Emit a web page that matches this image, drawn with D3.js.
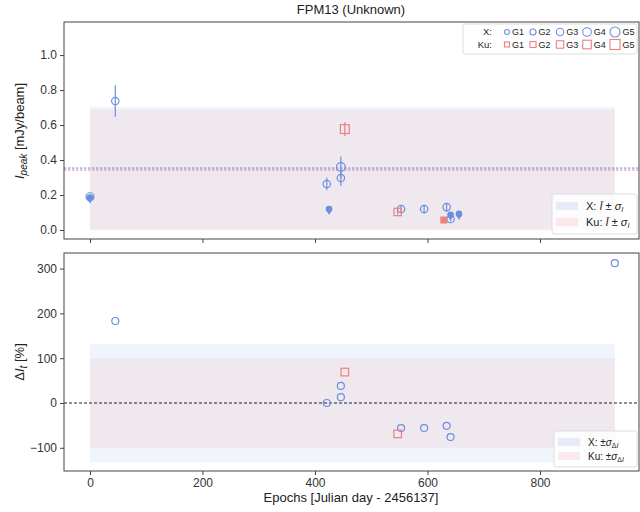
<!DOCTYPE html>
<html><head><meta charset="utf-8">
<script src="https://cdn.jsdelivr.net/npm/d3@7"></script>
<style>body{margin:0;background:#fff;font-family:"Liberation Sans",Arial,sans-serif;}</style>
</head><body>
<svg id="c" width="640" height="512"></svg>
<script>
// ---- data ----
const xTicks = [0, 200, 400, 600, 800];
const topTicks = [0.0, 0.2, 0.4, 0.6, 0.8, 1.0];
const botTicks = [-100, 0, 100, 200, 300];
// X band detections: [epoch, Ipeak, err, group]
const xDet = [[45,0.737,0.09,2],[421,0.263,0.035,2],[446,0.297,0.045,2],[446,0.36,0.06,3],[553,0.12,0.02,2],[594,0.12,0.025,2],[634,0.131,0.025,2],[641,0.063,0.012,2]];
// X upper limits: [epoch, Ipeak]
const xLim = [[0,0.185],[425,0.12],[641,0.087],[656,0.092]];
const xOpenAtLim = [[0,0.19]];
// Ku detections
const kuDet = [[453,0.577,0.04,3],[547,0.103,0.015,2]];
const kuLim = [[629,0.057]];
const xMean = 0.354, xSig = 0.35, kuMean = 0.343, kuSig = 0.345;
const bandStart = 0, bandEnd = 933;
// Delta I [%]
const xDelta = [[45,183],[421,0],[446,13],[446,38],[553,-56],[594,-56],[634,-51],[641,-76],[933,312]];
const kuDelta = [[453,69],[547,-69]];
const xSigD = 132, kuSigD = 100;
const groups = ["G1","G2","G3","G4","G5"];
const gRad = [2.5,3,3.7,4.3,5];

const blue = "#6a8fe0", red = "#f07f7f";
const svg = d3.select("#c");
const L = 64, R = 639;
const x = d3.scaleLinear().domain([-46.2, 976]).range([L, R]);
const yT = d3.scaleLinear().domain([-0.0514, 1.189]).range([239, 22]);
const yB = d3.scaleLinear().domain([-151.8, 334.8]).range([471, 253]);

function panel(y, top, bot, ticks, fmt, showX) {
  const g = svg.append("g");
  const ya = g.append("g").attr("transform", `translate(${L},0)`)
    .call(d3.axisLeft(y).tickValues(ticks).tickFormat(fmt).tickSize(4).tickPadding(3));
  ya.select(".domain").remove();
  ya.selectAll("line").attr("stroke", "#444");
  ya.selectAll("text").attr("font-size", 12).attr("fill", "#333").attr("font-family", "Liberation Sans, Arial");
  const xa = g.append("g").attr("transform", `translate(0,${bot})`)
    .call(d3.axisBottom(x).tickValues(xTicks).tickFormat(showX ? d3.format("d") : "").tickSize(4).tickPadding(3));
  xa.select(".domain").remove();
  xa.selectAll("line").attr("stroke", "#444");
  xa.selectAll("text").attr("font-size", 12).attr("fill", "#333").attr("font-family", "Liberation Sans, Arial");
  return g;
}

// ---- top panel ----
const gt = svg.append("g");
gt.append("rect").attr("x", x(bandStart)).attr("width", x(bandEnd) - x(bandStart))
  .attr("y", yT(xMean + xSig)).attr("height", yT(xMean - xSig) - yT(xMean + xSig))
  .attr("fill", blue).attr("fill-opacity", 0.1);
gt.append("rect").attr("x", x(bandStart)).attr("width", x(bandEnd) - x(bandStart))
  .attr("y", yT(kuMean + kuSig)).attr("height", yT(kuMean - kuSig) - yT(kuMean + kuSig))
  .attr("fill", red).attr("fill-opacity", 0.1);
gt.append("line").attr("x1", L).attr("x2", R).attr("y1", yT(xMean)).attr("y2", yT(xMean))
  .attr("stroke", blue).attr("stroke-dasharray", "2.5,1.5").attr("stroke-width", 1);
gt.append("line").attr("x1", L).attr("x2", R).attr("y1", yT(kuMean)).attr("y2", yT(kuMean))
  .attr("stroke", red).attr("stroke-dasharray", "2.5,1.5").attr("stroke-width", 1);

gt.selectAll(".ex").data(xDet).join("line")
  .attr("x1", d => x(d[0])).attr("x2", d => x(d[0]))
  .attr("y1", d => yT(d[1] - d[2])).attr("y2", d => yT(d[1] + d[2]))
  .attr("stroke", blue).attr("stroke-width", 1.2);
gt.selectAll(".ek").data(kuDet).join("line")
  .attr("x1", d => x(d[0])).attr("x2", d => x(d[0]))
  .attr("y1", d => yT(d[1] - d[2])).attr("y2", d => yT(d[1] + d[2]))
  .attr("stroke", red).attr("stroke-width", 1.2);
gt.selectAll(".mx").data(xDet).join("circle")
  .attr("cx", d => x(d[0])).attr("cy", d => yT(d[1])).attr("r", d => gRad[d[3]-1] + 0.7)
  .attr("fill", "none").attr("stroke", blue).attr("stroke-width", 1.2);
gt.selectAll(".mxo").data(xOpenAtLim).join("circle")
  .attr("cx", d => x(d[0])).attr("cy", d => yT(d[1])).attr("r", 4)
  .attr("fill", "none").attr("stroke", blue).attr("stroke-width", 1.2);
gt.selectAll(".mk").data(kuDet).join("rect")
  .attr("x", d => x(d[0]) - gRad[d[3]-1] - 0.7).attr("y", d => yT(d[1]) - gRad[d[3]-1] - 0.7)
  .attr("width", d => 2 * (gRad[d[3]-1] + 0.7)).attr("height", d => 2 * (gRad[d[3]-1] + 0.7))
  .attr("fill", "none").attr("stroke", red).attr("stroke-width", 1.2);
xLim.forEach(d => {
  const cx = x(d[0]), cy = yT(d[1]);
  gt.append("path").attr("d", `M${cx-2.8},${cy+1}L${cx+2.8},${cy+1}L${cx},${cy+6}Z`).attr("fill", blue);
  gt.append("circle").attr("cx", cx).attr("cy", cy).attr("r", 3.3).attr("fill", blue);
});
kuLim.forEach(d => {
  const cx = x(d[0]), cy = yT(d[1]);
  gt.append("rect").attr("x", cx - 3.5).attr("y", cy - 3.5).attr("width", 7).attr("height", 7).attr("fill", red);
});
panel(yT, 22, 239, topTicks, d3.format(".1f"), false);
gt.append("rect").attr("x", L).attr("y", 22).attr("width", R - L).attr("height", 217)
  .attr("fill", "none").attr("stroke", "#444").attr("stroke-width", 1);

// ---- bottom panel ----
const gb = svg.append("g");
gb.append("rect").attr("x", x(bandStart)).attr("width", x(bandEnd) - x(bandStart))
  .attr("y", yB(xSigD)).attr("height", yB(-xSigD) - yB(xSigD))
  .attr("fill", blue).attr("fill-opacity", 0.1);
gb.append("rect").attr("x", x(bandStart)).attr("width", x(bandEnd) - x(bandStart))
  .attr("y", yB(kuSigD)).attr("height", yB(-kuSigD) - yB(kuSigD))
  .attr("fill", red).attr("fill-opacity", 0.1);
gb.append("line").attr("x1", L).attr("x2", R).attr("y1", yB(0)).attr("y2", yB(0))
  .attr("stroke", "#222").attr("stroke-dasharray", "3,2").attr("stroke-width", 1);
gb.selectAll(".dx").data(xDelta).join("circle")
  .attr("cx", d => x(d[0])).attr("cy", d => yB(d[1])).attr("r", 3.5)
  .attr("fill", "none").attr("stroke", blue).attr("stroke-width", 1.2);
gb.selectAll(".dk").data(kuDelta).join("rect")
  .attr("x", d => x(d[0]) - 3.8).attr("y", d => yB(d[1]) - 3.8).attr("width", 7.6).attr("height", 7.6)
  .attr("fill", "none").attr("stroke", red).attr("stroke-width", 1.2);
panel(yB, 253, 471, botTicks, d3.format("d"), true);
gb.append("rect").attr("x", L).attr("y", 253).attr("width", R - L).attr("height", 218)
  .attr("fill", "none").attr("stroke", "#444").attr("stroke-width", 1);

// ---- text ----
svg.append("text").attr("x", 351).attr("y", 14).attr("text-anchor", "middle")
  .attr("font-size", 13).attr("fill", "#222").text("FPM13 (Unknown)");
svg.append("text").attr("x", 351).attr("y", 502).attr("text-anchor", "middle")
  .attr("font-size", 13).attr("fill", "#222").text("Epochs [Julian day - 2456137]");
const yl1 = svg.append("text").attr("transform", "translate(24,131) rotate(-90)")
  .attr("text-anchor", "middle").attr("font-size", 13).attr("fill", "#222");
yl1.append("tspan").attr("font-style", "italic").text("I");
yl1.append("tspan").attr("font-style", "italic").attr("font-size", 10).attr("dy", 3).text("peak");
yl1.append("tspan").attr("dy", -3).text(" [mJy/beam]");
const yl2 = svg.append("text").attr("transform", "translate(24,362) rotate(-90)")
  .attr("text-anchor", "middle").attr("font-size", 13).attr("fill", "#222");
yl2.append("tspan").text("Δ");
yl2.append("tspan").attr("font-style", "italic").text("I");
yl2.append("tspan").attr("font-style", "italic").attr("font-size", 10).attr("dy", 3).text("t");
yl2.append("tspan").attr("dy", -3).text(" [%]");

// ---- group legend ----
const lg = svg.append("g");
lg.append("rect").attr("x", 463).attr("y", 24).attr("width", 174).attr("height", 30).attr("rx", 2)
  .attr("fill", "#fff").attr("fill-opacity", 0.85).attr("stroke", "#ddd");
const gx = [507, 533, 560, 587, 615];
lg.append("text").attr("x", 492).attr("y", 35).attr("text-anchor", "end").attr("font-size", 9.5).attr("fill", "#222").text("X:");
lg.append("text").attr("x", 492).attr("y", 47.5).attr("text-anchor", "end").attr("font-size", 9.5).attr("fill", "#222").text("Ku:");
groups.forEach((gname, i) => {
  const r = gRad[i];
  lg.append("circle").attr("cx", gx[i]).attr("cy", 32).attr("r", r).attr("fill", "none").attr("stroke", blue).attr("stroke-width", 1.1);
  lg.append("rect").attr("x", gx[i] - r).attr("y", 44.5 - r).attr("width", 2 * r).attr("height", 2 * r).attr("fill", "none").attr("stroke", red).attr("stroke-width", 1.1);
  lg.append("text").attr("x", gx[i] + r + 2.5).attr("y", 35).attr("font-size", 9).attr("fill", "#222").text(gname);
  lg.append("text").attr("x", gx[i] + r + 2.5).attr("y", 47.5).attr("font-size", 9).attr("fill", "#222").text(gname);
});

// ---- band legends ----
function bandLegend(bx, by, h, fs, labels) {
  const g = svg.append("g");
  g.append("rect").attr("x", bx).attr("y", by).attr("width", 637 - bx).attr("height", h).attr("rx", 2)
    .attr("fill", "#fff").attr("fill-opacity", 0.85).attr("stroke", "#ddd");
  const step = (h - 8) / 2;
  labels.forEach((lab, i) => {
    const yy = by + 4 + i * step + step / 2 - 4;
    g.append("rect").attr("x", bx + 4).attr("y", yy).attr("width", 22).attr("height", 8)
      .attr("fill", i === 0 ? blue : red).attr("fill-opacity", 0.15);
    const t = g.append("text").attr("x", bx + 34).attr("y", yy + 7.5).attr("font-size", fs).attr("fill", "#222");
    lab(t);
  });
}
bandLegend(552, 194, 40, 11, [
  t => { t.append("tspan").text("X: "); t.append("tspan").attr("font-style","italic").text("Ī"); t.append("tspan").text(" ± "); t.append("tspan").attr("font-style","italic").text("σ"); t.append("tspan").attr("font-style","italic").attr("font-size",7.5).attr("dy",2).text("I"); },
  t => { t.append("tspan").text("Ku: "); t.append("tspan").attr("font-style","italic").text("Ī"); t.append("tspan").text(" ± "); t.append("tspan").attr("font-style","italic").text("σ"); t.append("tspan").attr("font-style","italic").attr("font-size",7.5).attr("dy",2).text("I"); }
]);
bandLegend(554, 431, 36, 10, [
  t => { t.append("tspan").text("X: ±"); t.append("tspan").attr("font-style","italic").text("σ"); t.append("tspan").attr("font-size",7).attr("dy",2).text("Δ"); t.append("tspan").attr("font-style","italic").attr("font-size",7).text("I"); },
  t => { t.append("tspan").text("Ku: ±"); t.append("tspan").attr("font-style","italic").text("σ"); t.append("tspan").attr("font-size",7).attr("dy",2).text("Δ"); t.append("tspan").attr("font-style","italic").attr("font-size",7).text("I"); }
]);
</script>
</body></html>
